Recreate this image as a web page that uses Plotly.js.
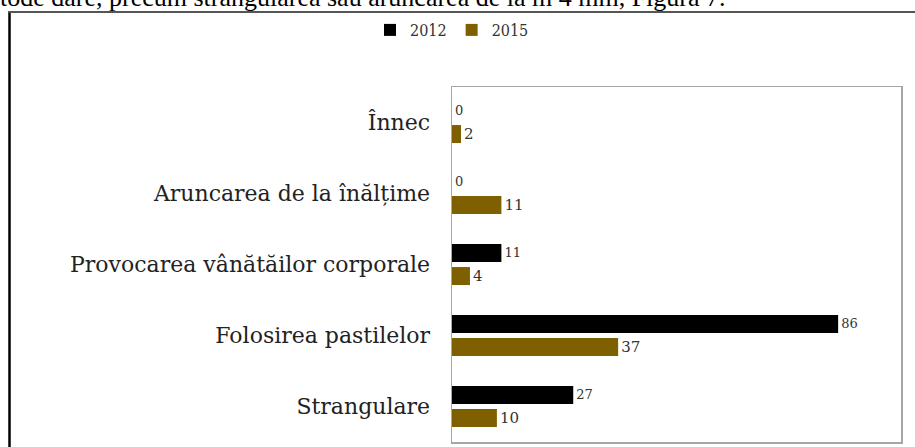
<!DOCTYPE html>
<html>
<head>
<meta charset="utf-8">
<script src="https://cdn.plot.ly/plotly-3.0.1.min.js"></script>
<style>
html,body{margin:0;padding:0;background:#fff;overflow:hidden;}
#chart{width:915px;height:447px;}
</style>
</head>
<body>
<div id="chart"></div>
<script>
const categories = ["Înnec", "Aruncarea de la înălțime", "Provocarea vânătăilor corporale", "Folosirea pastilelor", "Strangulare"];
const series2012 = [0, 0, 11, 86, 27];
const series2015 = [2, 11, 4, 37, 10];
const seriesNames = ["2012", "2015"];
const headerText = "tode dare, precum strangularea sau aruncarea de la m 4 mm, Figura 7.";

// plot area pixel box: left 452, right 901, top 87, bottom 442
const L = 452, R = 901, T = 87, B = 442;
const px = x => (x - L) / (R - L);
const py = y => (B - y) / (B - T);

const traces = [
  {
    type: "bar", orientation: "h", name: seriesNames[0],
    y: categories, x: series2012,
    marker: {color: "#000000"},
    text: series2012.map(String), textposition: "outside", cliponaxis: false,
    textfont: {family: "DejaVu Serif", size: 13, color: "#333333"},
    hoverinfo: "none"
  },
  {
    type: "bar", orientation: "h", name: seriesNames[1],
    y: categories, x: series2015,
    marker: {color: "#7f6000"},
    text: series2015.map(String), textposition: "outside", cliponaxis: false,
    textfont: {family: "DejaVu Serif", size: 15, color: "#333333"},
    hoverinfo: "none"
  }
];

const layout = {
  width: 915, height: 447,
  margin: {l: L, r: 915 - R, t: T, b: 447 - B, pad: 0},
  paper_bgcolor: "#ffffff", plot_bgcolor: "#ffffff",
  barmode: "group", bargap: 0.35, bargroupgap: 0.22,
  showlegend: true,
  legend: {
    orientation: "h", x: px(452), xanchor: "center", y: py(30), yanchor: "middle",
    font: {family: "DejaVu Serif Condensed", size: 16, color: "#333333"},
    itemwidth: 30, tracegroupgap: 0
  },
  xaxis: {
    range: [0, 100], showgrid: false, zeroline: false, showticklabels: false, ticks: "",
    showline: true, mirror: true, linecolor: "#a6a6a6", linewidth: 1.5, fixedrange: true
  },
  yaxis: {
    type: "category", autorange: "reversed", showgrid: false, zeroline: false, ticks: "",
    ticklabelstandoff: 16,
    tickfont: {family: "DejaVu Serif", size: 22, color: "#222222"},
    showline: true, mirror: true, linecolor: "#a6a6a6", linewidth: 1.5, fixedrange: true
  },
  shapes: [
    {type: "line", xref: "paper", yref: "paper", x0: px(9.5), x1: px(9.5), y0: py(11), y1: py(460),
     line: {color: "#000000", width: 2.5}},
    {type: "line", xref: "paper", yref: "paper", x0: px(8), x1: px(915), y0: py(12), y1: py(12),
     line: {color: "#555555", width: 2}}
  ],
  annotations: [
    {xref: "paper", yref: "paper", x: px(-2), xanchor: "left", y: py(-2), yanchor: "middle",
     text: headerText, showarrow: false,
     font: {family: "Liberation Serif", size: 26, color: "#000000"}}
  ]
};

Plotly.newPlot("chart", traces, layout, {displayModeBar: false, staticPlot: true});
</script>
</body>
</html>
